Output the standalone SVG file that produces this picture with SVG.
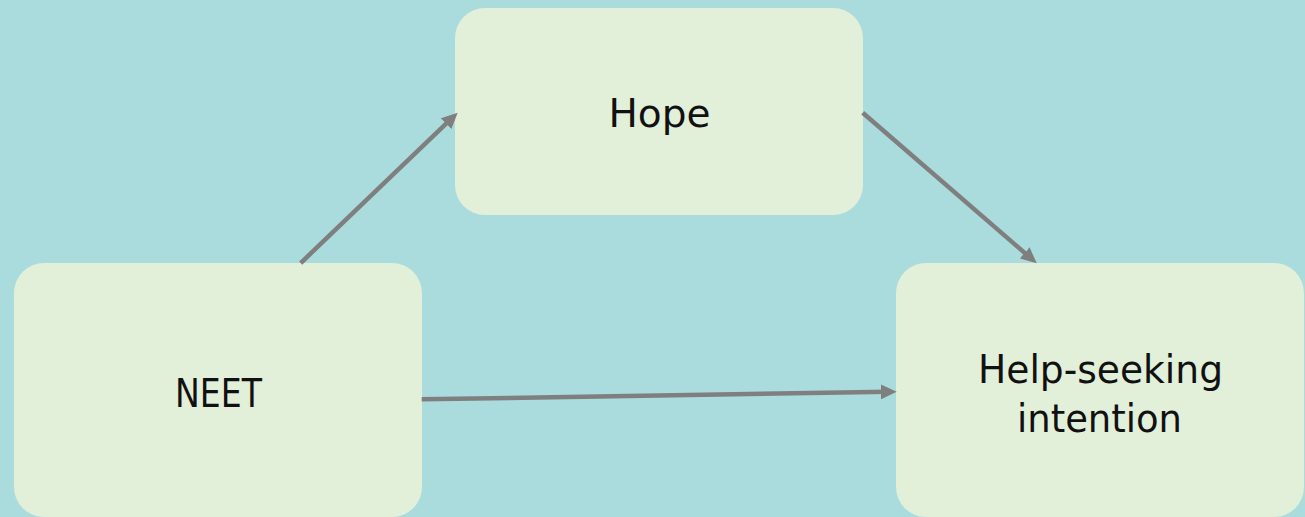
<svg xmlns="http://www.w3.org/2000/svg" width="1305" height="517" viewBox="0 0 1305 517">
  <style>
    .box { fill: #E2EFD9; }
    .lbl { font-family: "DejaVu Sans", "Liberation Sans", sans-serif; font-size: 39px; fill: #111111; text-anchor: middle; }
    .conn { stroke: #7F7F7F; stroke-width: 4.5; fill: none; }
  </style>
  <defs>
    <marker id="arrow" viewBox="0 0 16 15" refX="8" refY="7.5" markerWidth="16" markerHeight="15" markerUnits="userSpaceOnUse" orient="auto">
      <path d="M0,0 L16,7.5 L0,15 Z" fill="#7F7F7F"/>
    </marker>
  </defs>
  <rect x="0" y="0" width="1305" height="517" fill="#AADCDD"/>
  <g id="node-hope">
    <rect class="box" x="455" y="8" width="408" height="207" rx="30" ry="30"/>
    <text class="lbl" x="659.5" y="127" textLength="102" lengthAdjust="spacingAndGlyphs">Hope</text>
  </g>
  <g id="node-neet">
    <rect class="box" x="14" y="263" width="408" height="254" rx="30" ry="30"/>
    <text class="lbl" x="218.5" y="407" textLength="87" lengthAdjust="spacingAndGlyphs">NEET</text>
  </g>
  <g id="node-help">
    <rect class="box" x="896" y="263" width="408" height="254" rx="30" ry="30"/>
    <text class="lbl"><tspan x="1100.5" y="383" textLength="245" lengthAdjust="spacingAndGlyphs">Help-seeking</tspan><tspan x="1099.5" y="432" textLength="165" lengthAdjust="spacingAndGlyphs">intention</tspan></text>
  </g>
  <g id="connectors">
    <path class="conn" d="M300.7,263 L451.9,118.2" marker-end="url(#arrow)"/>
    <path class="conn" d="M862.7,112.7 L1030.7,258.1" marker-end="url(#arrow)"/>
    <path class="conn" d="M421.7,399.3 L888.7,391.8" marker-end="url(#arrow)"/>
  </g>
</svg>
